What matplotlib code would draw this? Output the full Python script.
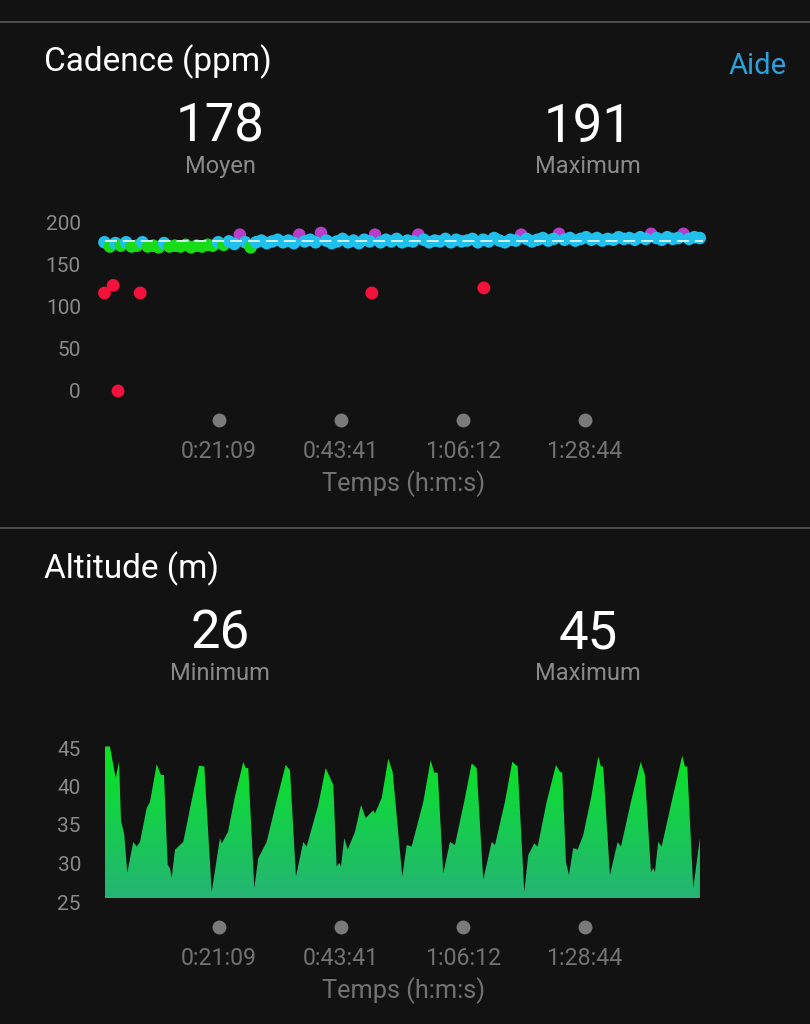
import numpy as np
import matplotlib.pyplot as plt
from matplotlib.colors import LinearSegmentedColormap
from matplotlib.patches import Polygon

plt.rcParams['font.family'] = ['Roboto', 'DejaVu Sans']

# ---------------
# Data
# ---------------

# cadence, one sample per minute (ppm)
cad_step = 1.0
cadence = [176, 171, 175, 172, 176, 171, 172, 176, 171, 172,
           170, 175, 171, 172, 171, 173, 170, 172, 171, 173,
           172, 176, 173, 177, 174, 185, 176, 170, 176, 178,
           175, 177, 179, 176, 178, 175, 185, 177, 179, 176,
           187, 178, 175, 177, 180, 176, 178, 175, 179, 177,
           185, 176, 179, 177, 180, 176, 178, 177, 185, 179,
           176, 178, 177, 180, 176, 179, 177, 178, 180, 176,
           179, 177, 181, 178, 176, 179, 178, 185, 180, 177,
           179, 181, 178, 180, 186, 179, 181, 178, 180, 182,
           179, 181, 178, 180, 179, 182, 180, 181, 179, 182,
           180, 186, 181, 179, 182, 180, 181, 186, 180, 182,
           181]
# isolated low readings (minute, ppm)
cad_out_t = [0.0, 1.6, 2.5, 6.6, 49.4, 70.1]
cad_out_v = [116, 125, 0, 116, 116, 122]
cad_avg = 178
cad_max = 191

# altitude profile (minute, m)
alt_t = [0.0, 1.0, 2.07, 2.68, 3.05, 3.66, 4.21, 5.32, 5.95, 6.56,
         7.80, 8.41, 9.65, 10.44, 10.99, 11.68, 12.10, 12.42, 13.03, 14.56,
         16.11, 17.46, 18.44, 19.81, 21.34, 21.66, 22.82, 24.11, 25.65, 26.09,
         26.57, 27.68, 28.42, 29.97, 31.82, 33.48, 34.28, 35.38, 36.73, 37.36,
         39.50, 40.87, 42.28, 42.90, 43.38, 43.70, 44.31, 44.94, 46.29, 47.40,
         48.26, 49.67, 49.98, 51.22, 52.44, 53.25, 55.03, 55.84, 56.76, 58.91,
         60.27, 60.94, 61.57, 62.60, 63.84, 64.76, 66.61, 67.85, 68.77, 69.99,
         71.55, 72.16, 74.00, 75.35, 76.35, 77.57, 78.31, 79.42, 80.05, 81.71,
         83.43, 84.17, 84.59, 85.27, 85.83, 86.62, 87.44, 88.47, 90.02, 91.24,
         91.74, 92.16, 93.40, 94.83, 95.44, 97.28, 99.08, 99.87, 100.98, 101.40,
         101.72, 102.33, 102.96, 104.80, 106.76, 107.26, 107.69, 108.80, 110.03]
alt_m = [45.2, 45.2, 41.1, 43.2, 35.6, 33.7, 28.8, 32.8, 32.2, 32.8,
         37.2, 38.0, 42.9, 41.5, 41.5, 29.8, 29.4, 28.1, 31.8, 32.8,
         38.2, 42.7, 42.6, 26.3, 33.3, 32.6, 34.1, 38.7, 43.2, 42.4,
         42.4, 26.8, 30.7, 32.8, 38.2, 42.8, 42.1, 28.3, 32.8, 32.2,
         37.6, 42.4, 40.2, 29.6, 30.1, 29.6, 33.3, 31.8, 34.1, 37.6,
         35.9, 36.9, 36.5, 38.5, 43.6, 41.9, 28.3, 32.4, 32.2, 38.0,
         43.4, 41.8, 41.8, 28.7, 32.8, 32.4, 38.5, 43.0, 42.4, 27.9,
         32.8, 32.4, 38.0, 43.2, 42.6, 26.3, 31.1, 32.6, 32.2, 38.0,
         42.8, 41.9, 41.8, 30.2, 28.5, 32.0, 31.8, 33.7, 38.9, 43.9,
         42.6, 42.6, 28.5, 32.8, 32.2, 38.0, 43.2, 41.5, 28.9, 29.4,
         28.9, 32.8, 32.2, 38.0, 44.0, 42.6, 42.6, 26.8, 33.3]
alt_min = 26
alt_max = 45

time_labels = ['0:21:09', '0:43:41', '1:06:12', '1:28:44']
cad_yticks = [0, 50, 100, 150, 200]
alt_yticks = [25, 30, 35, 40, 45]

# ---------------
# Styles
# ---------------
BG = '#121212'
W, H = 810, 1024
TICK_GREY = '#8a8a8a'
TIME_GREY = '#727272'
X_END = 110.6


def zone_color(v):
    if v < 153:
        return '#f3123c'
    if v < 164:
        return '#f08c1e'
    if v < 174:
        return '#18dc18'
    if v < 184:
        return '#20c0ec'
    return '#b83ec8'


def to_min(lbl):
    h, m, s = [int(p) for p in lbl.split(':')]
    return h * 60 + m + s / 60.0


tick_t = [to_min(l) for l in time_labels]


def fx(x):
    return x / W


def fy(y):
    return 1 - y / H


fig = plt.figure(figsize=(8.1, 10.24), dpi=100, facecolor=BG)

# separators
for yy in [22, 528]:
    fig.add_artist(plt.Line2D([0, 1], [fy(yy), fy(yy)], color='#4c4c4c', lw=1.5))


def header(y0, title, v1, l1, v2, l2, aide=False):
    fig.text(fx(44), fy(y0 + 71.7), title, color='white', fontsize=24, ha='left', va='baseline')
    if aide:
        fig.text(fx(787), fy(y0 + 74), 'Aide', color='#2ba2dc', fontsize=21, ha='right', va='baseline')
    fig.text(fx(220), fy(y0 + 141.7), v1, color='white', fontsize=38, ha='center', va='baseline')
    fig.text(fx(588), fy(y0 + 141.7), v2, color='white', fontsize=38, ha='center', va='baseline')
    fig.text(fx(220), fy(y0 + 173.3), l1, color=TICK_GREY, fontsize=17, ha='center', va='baseline')
    fig.text(fx(588), fy(y0 + 173.3), l2, color=TICK_GREY, fontsize=17, ha='center', va='baseline')


def style_axes(ax, dot_y, lab_pad, xlab_y):
    ax.set_facecolor(BG)
    for s in ax.spines.values():
        s.set_visible(False)
    ax.tick_params(axis='y', length=0, pad=17, labelsize=15, labelcolor=TICK_GREY)
    ax.tick_params(axis='x', length=0, pad=lab_pad, labelsize=16.7, labelcolor=TIME_GREY)
    ax.set_xticks(tick_t, time_labels)
    ax.scatter(tick_t, [dot_y] * len(tick_t), s=100, color='#7a7a7a', linewidths=0,
               transform=ax.get_xaxis_transform(), clip_on=False)
    ax.set_xlabel('Temps (h:m:s)', color=TIME_GREY, fontsize=18.2, va='center')
    ax.xaxis.set_label_coords(0.5, xlab_y)
    ax.set_xlim(0, X_END)


# ---------------
# Cadence
# ---------------
header(0, 'Cadence (ppm)', str(cad_avg), 'Moyen', str(cad_max), 'Maximum', aide=True)

left = fx(104.5)
width = (703 - 104.5) / W
cy_bot, cy_top = 399.45, 213.55
ax1 = fig.add_axes([left, fy(cy_bot), width, (cy_bot - cy_top) / H])

cad_t = np.arange(len(cadence)) * cad_step
cad_v = np.array(cadence)
cols = np.array([zone_color(v) for v in cadence])
purple = cad_v >= 184
ax1.scatter(cad_t[purple], cad_v[purple], s=82, c=cols[purple],
            linewidths=0, zorder=2, clip_on=False)
ax1.scatter(cad_t[~purple], cad_v[~purple], s=82, c=cols[~purple],
            linewidths=0, zorder=3, clip_on=False)
ax1.scatter(cad_out_t, cad_out_v, s=85, c=[zone_color(v) for v in cad_out_v],
            linewidths=0, zorder=3, clip_on=False)
ax1.axhline(cad_avg, color='#e2f4ff', lw=1.3, dashes=(6.6, 3.3), zorder=4)

ax1.set_ylim(-10, 210)
ax1.set_yticks(cad_yticks)
style_axes(ax1, (cy_bot - 420) / (cy_bot - cy_top), 29.5, (cy_bot - 484) / (cy_bot - cy_top))

# ---------------
# Altitude
# ---------------
header(507, 'Altitude (m)', str(alt_min), 'Minimum', str(alt_max), 'Maximum')

ay_bot, ay_top = 902, 740.3
ax2 = fig.add_axes([left, fy(ay_bot), width, (ay_bot - ay_top) / H])
floor = 25.5
verts = [(alt_t[0], floor)] + list(zip(alt_t, alt_m)) + [(alt_t[-1], floor)]
patch = Polygon(verts, closed=True, facecolor='none', edgecolor='none')
ax2.add_patch(patch)
cmap = LinearSegmentedColormap.from_list('alt', ['#25b474', '#16ce4c', '#08e61c'])
grad = np.linspace(0, 1, 256).reshape(-1, 1)
im = ax2.imshow(grad, extent=[alt_t[0], alt_t[-1], floor, 45.5], origin='lower',
                aspect='auto', cmap=cmap, zorder=2)
im.set_clip_path(patch)

ax2.set_ylim(25, 46)
ax2.set_yticks(alt_yticks)
style_axes(ax2, (ay_bot - 927) / (ay_bot - ay_top), 32.5, (ay_bot - 991) / (ay_bot - ay_top))

fig.savefig('out.png', dpi=100, facecolor=BG)
